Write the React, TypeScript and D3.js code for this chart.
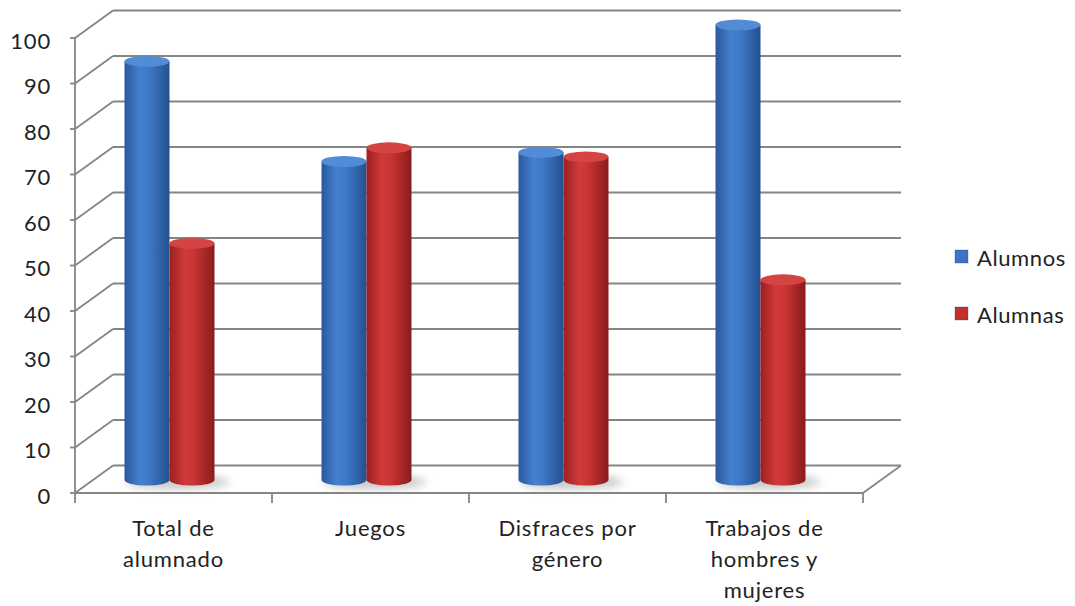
import React from 'react'
import { scaleBand, scaleLinear, range } from 'd3'

// chart data
const categories = ['Total de alumnado', 'Juegos', 'Disfraces por género', 'Trabajos de hombres y mujeres']
const categoryLines = [['Total de', 'alumnado'], ['Juegos'], ['Disfraces por', 'género'], ['Trabajos de', 'hombres y', 'mujeres']]
const seriesNames = ['Alumnos', 'Alumnas']
const alumnos = [92, 70, 72, 100]
const alumnas = [52, 73, 71, 44]
const yTicks = [0, 10, 20, 30, 40, 50, 60, 70, 80, 90, 100]

const FONT = 'Lato, "Open Sans", sans-serif'

const App = () => {
    const width = 1075
    const height = 606
    const depth = { dx: 38, dy: -27.5 }

    const x = scaleBand<string>()
        .domain(categories)
        .range([75, 863])

    const y = scaleLinear()
        .domain([0, 100])
        .range([493, 38])

    // cylinders stand roughly in the middle of the floor depth
    const yMid = (v: number) => y(v) - 13
    const barW = 45
    const ry = 5.5
    const series = [
        { name: seriesNames[0], values: alumnos, grad: 'gBlue', top: '#528bd6', key: '#3d73c4' },
        { name: seriesNames[1], values: alumnas, grad: 'gRed', top: '#d44442', key: '#c3302e' },
    ]

    const gridColor = '#858585'
    const x0 = x.range()[0]
    const x1 = x.range()[1]

    return (
        <svg width={width} height={height} style={{ position: 'absolute', left: 0, top: 0, background: '#fff' }}>
            <defs>
                <linearGradient id="gBlue" x1="0" x2="1" y1="0" y2="0">
                    <stop offset="0%" stopColor="#2a589c" />
                    <stop offset="35%" stopColor="#4581cf" />
                    <stop offset="55%" stopColor="#3e78c6" />
                    <stop offset="100%" stopColor="#24508f" />
                </linearGradient>
                <linearGradient id="gRed" x1="0" x2="1" y1="0" y2="0">
                    <stop offset="0%" stopColor="#9a2020" />
                    <stop offset="35%" stopColor="#d23a39" />
                    <stop offset="55%" stopColor="#c83433" />
                    <stop offset="100%" stopColor="#8a1b1b" />
                </linearGradient>
                <filter id="blur" x="-50%" y="-200%" width="200%" height="500%">
                    <feGaussianBlur stdDeviation="4" />
                </filter>
            </defs>

            {/* back wall gridlines with the perspective diagonals */}
            {yTicks.map(t => (
                <g key={'g' + t} stroke={gridColor} strokeWidth={1.8} fill="none">
                    <line x1={x0} y1={y(t)} x2={x0 + depth.dx} y2={y(t) + depth.dy} />
                    <line x1={x0 + depth.dx} y1={y(t) + depth.dy} x2={x1 + depth.dx} y2={y(t) + depth.dy} />
                </g>
            ))}

            {/* floor */}
            <g stroke={gridColor} strokeWidth={1.8} fill="none">
                <line x1={x0} y1={y(0)} x2={x1} y2={y(0)} />
                <line x1={x1} y1={y(0)} x2={x1 + depth.dx} y2={y(0) + depth.dy} />
                <line x1={x0} y1={y(0)} x2={x0} y2={y(100)} />
                {yTicks.map(t => (
                    <line key={'t' + t} x1={x0 - 5} y1={y(t)} x2={x0} y2={y(t)} />
                ))}
                {range(categories.length + 1).map(i => (
                    <line key={'c' + i} x1={x0 + i * x.bandwidth()} y1={y(0)} x2={x0 + i * x.bandwidth()} y2={y(0) + 10} />
                ))}
            </g>

            {/* y tick labels */}
            {yTicks.map(t => (
                <text key={'l' + t} x={51} y={y(t) + 2} textAnchor="end" dominantBaseline="central"
                    fontFamily={FONT} fontSize={22} letterSpacing={0.8} fill="#222">{t}</text>
            ))}

            {/* cylinder shadows */}
            {categories.map(c => {
                const cx = (x(c) as number) + x.bandwidth() / 2 - 4
                return <ellipse key={'s' + c} cx={cx + 8} cy={yMid(0) + 2} rx={barW * 1.15} ry={7}
                    fill="#9a9a9a" opacity={0.55} filter="url(#blur)" />
            })}

            {/* cylinders */}
            {categories.map((c, i) => {
                const cx = (x(c) as number) + x.bandwidth() / 2 - 4
                return (
                    <g key={'b' + c}>
                        {series.map((s, j) => {
                            const left = cx - barW + j * barW
                            const yt = yMid(s.values[i])
                            const yb = yMid(0)
                            const path = `M${left},${yt} L${left},${yb} A${barW / 2},${ry} 0 0 0 ${left + barW},${yb} L${left + barW},${yt} Z`
                            return (
                                <g key={s.name}>
                                    <path d={path} fill={`url(#${s.grad})`} />
                                    <ellipse cx={left + barW / 2} cy={yt} rx={barW / 2} ry={ry} fill={s.top} />
                                </g>
                            )
                        })}
                    </g>
                )
            })}

            {/* category labels */}
            {categories.map((c, i) => (
                <text key={'x' + c} x={(x(c) as number) + x.bandwidth() / 2} y={536} textAnchor="middle"
                    fontFamily={FONT} fontSize={22} letterSpacing={0.8} fill="#222">
                    {categoryLines[i].map((ln, k) => (
                        <tspan key={k} x={(x(c) as number) + x.bandwidth() / 2} dy={k === 0 ? 0 : 31}>{ln}</tspan>
                    ))}
                </text>
            ))}

            {/* legend */}
            {series.map((s, j) => (
                <g key={'lg' + s.name} transform={`translate(955, ${250 + j * 57})`}>
                    <rect x={0} y={0} width={13} height={13} fill={s.key} stroke="#1f3f70" strokeOpacity={0.3} />
                    <text x={22} y={7} dominantBaseline="central" fontFamily={FONT} fontSize={22} letterSpacing={0.6} fill="#222">{s.name}</text>
                </g>
            ))}
        </svg>
    )
}

export default App
